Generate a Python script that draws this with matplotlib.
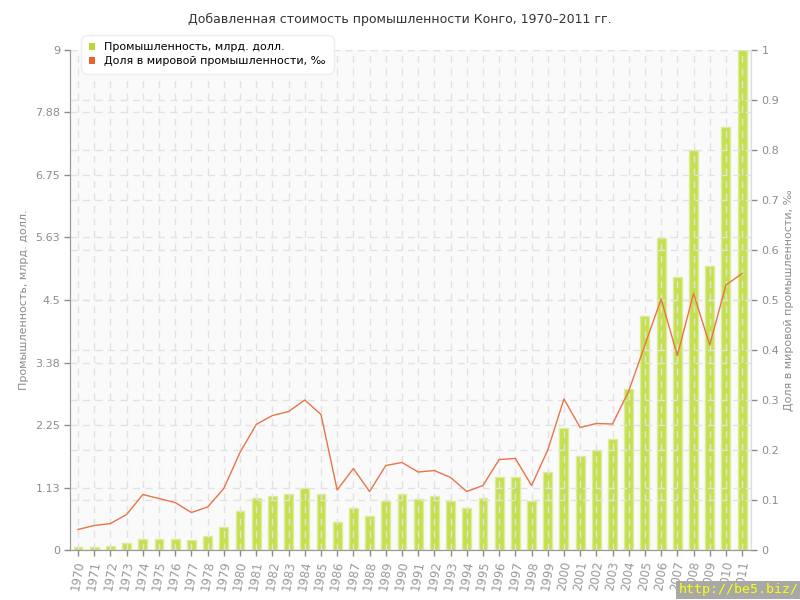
import matplotlib
matplotlib.use('Agg')
import matplotlib.pyplot as plt
import numpy as np

# Data
years = list(range(1970, 2012))
industry = [0.05, 0.06, 0.08, 0.12, 0.20, 0.20, 0.20, 0.18, 0.25, 0.41,
            0.71, 0.93, 0.97, 1.00, 1.11, 1.01, 0.50, 0.76, 0.61, 0.89,
            1.01, 0.92, 0.97, 0.89, 0.76, 0.93, 1.31, 1.31, 0.88, 1.40,
            2.20, 1.70, 1.80, 2.00, 2.90, 4.21, 5.61, 4.91, 7.20, 5.11,
            7.61, 9.00]
share = [0.041, 0.049, 0.053, 0.071, 0.111, 0.103, 0.095, 0.075, 0.086, 0.123,
         0.195, 0.251, 0.269, 0.277, 0.300, 0.271, 0.120, 0.163, 0.117, 0.169,
         0.175, 0.156, 0.159, 0.145, 0.117, 0.129, 0.181, 0.183, 0.129, 0.200,
         0.302, 0.245, 0.253, 0.252, 0.318, 0.410, 0.502, 0.389, 0.513, 0.410,
         0.530, 0.553]

left_ticks = [0, 1.125, 2.25, 3.375, 4.5, 5.625, 6.75, 7.875, 9]
left_labels = ['0', '1.13', '2.25', '3.38', '4.5', '5.63', '6.75', '7.88', '9']
right_ticks = [0, 0.1, 0.2, 0.3, 0.4, 0.5, 0.6, 0.7, 0.8, 0.9, 1]
right_labels = ['0', '0.1', '0.2', '0.3', '0.4', '0.5', '0.6', '0.7', '0.8', '0.9', '1']

bar_color = '#c5e04e'
line_color = '#e8744a'
grey = '#8c8c8c'

fig = plt.figure(figsize=(8, 6), dpi=100)
ax = fig.add_axes([0.088, 0.0833, 0.851, 0.8334])
ax.set_facecolor('#fafafa')
x = np.arange(len(years))

ax.bar(x, industry, width=0.55, color=bar_color, edgecolor='#dcec9a', linewidth=1, zorder=1)
ax.set_ylim(0, 9)
ax.set_xlim(-0.47, 41.56)
ax.set_yticks(left_ticks)
ax.set_yticklabels(left_labels)
ax.set_xticks(x)
ax.set_xticklabels([str(y) for y in years], rotation=80, ha='center', va='top')
ax.set_axisbelow(False)
ax.grid(True, color='#e2e2e2', linestyle=(0, (5, 4)), linewidth=1, zorder=2)
ax.tick_params(colors=grey, labelsize=8, length=4, width=1, labelcolor=grey)
ax.tick_params(axis='x', labelsize=8.5, pad=3, labelcolor='#999999')
ax.set_ylabel('Промышленность, млрд. долл.', color=grey, fontsize=8, labelpad=4)

ax2 = ax.twinx()
ax2.plot(x, share, color=line_color, linewidth=1, zorder=3)
ax2.set_ylim(0, 1)
ax2.set_yticks(right_ticks)
ax2.set_yticklabels(right_labels)
ax2.grid(True, color='#e2e2e2', linestyle=(0, (5, 4)), linewidth=1)
ax2.tick_params(colors=grey, labelsize=8, length=4, width=1, labelcolor=grey)
ax2.set_ylabel('Доля в мировой промышленности, ‰', color=grey, fontsize=8, labelpad=3)

for a in (ax, ax2):
    a.spines['top'].set_visible(False)
    a.spines['left'].set_color('#999999')
    a.spines['bottom'].set_color('#999999')
    a.spines['right'].set_color('#dddddd')

fig.text(0.5, 0.968, 'Добавленная стоимость промышленности Конго, 1970–2011 гг.',
         ha='center', va='center', fontsize=9, color='#333333')

# legend
from matplotlib.patches import Patch
handles = [Patch(facecolor='#b8d832', edgecolor='none'),
           Patch(facecolor='#e8642c', edgecolor='none')]
leg = fig.legend(handles, ['Промышленность, млрд. долл.', 'Доля в мировой промышленности, ‰'],
                 loc='upper left', bbox_to_anchor=(0.097, 0.948), fontsize=8,
                 handlelength=0.6, handleheight=0.6, handletextpad=0.8,
                 labelspacing=0.35, borderpad=0.5, fancybox=True, shadow=False,
                 framealpha=1, edgecolor='#eeeeee')
leg.get_frame().set_boxstyle('round,pad=0.2,rounding_size=0.6')

# watermark
fig.text(0.998, 0.006, 'http://be5.biz/', ha='right', va='bottom', fontsize=9.5,
         family='DejaVu Sans Mono', color='#ffff00',
         bbox=dict(facecolor='#a8a8a8', edgecolor='none', pad=1.5))

fig.savefig('out.png', dpi=100)
